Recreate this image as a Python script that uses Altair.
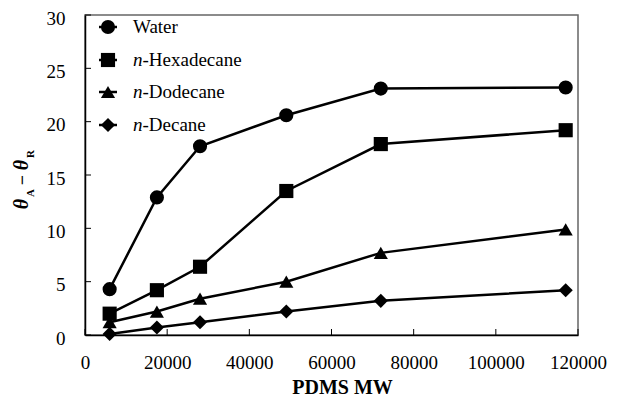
import altair as alt
import pandas as pd

# ---- data ----
mw = [6000, 17500, 28000, 49000, 72000, 117000]
water = [4.3, 12.9, 17.7, 20.6, 23.1, 23.2]
hexadecane = [2.0, 4.2, 6.4, 13.5, 17.9, 19.2]
dodecane = [1.2, 2.2, 3.4, 5.0, 7.7, 9.9]
decane = [0.1, 0.7, 1.2, 2.2, 3.2, 4.2]

series_names = ["Water", "n-Hexadecane", "n-Dodecane", "n-Decane"]
series_values = [water, hexadecane, dodecane, decane]
shapes = ["circle", "square", "triangle-up", "diamond"]

legend_prefix = ["", "n", "n", "n"]
legend_rest = ["Water", "-Hexadecane", "-Dodecane", "-Decane"]

x_ticks = [0, 20000, 40000, 60000, 80000, 100000, 120000]
y_ticks = [0, 5, 10, 15, 20, 25, 30]

FONT = "Liberation Serif"
W, H = 493, 320

rows = []
for name, vals in zip(series_names, series_values):
    for m, v in zip(mw, vals):
        rows.append({"series": name, "mw": m, "value": v})
df = pd.DataFrame(rows)

xscale = alt.Scale(domain=[0, 120000], nice=False)
yscale = alt.Scale(domain=[0, 30], nice=False)

base = alt.Chart(df)

lines = base.mark_line(color="black", strokeWidth=2.5).encode(
    x=alt.X("mw:Q", scale=xscale,
            axis=alt.Axis(values=x_ticks, format="d", title="PDMS MW",
                          grid=False, ticks=False, tickSize=0,
                          labelPadding=18, labelFont=FONT, labelFontSize=19,
                          labelFontWeight="normal", labelFontStyle="normal",
                          labelColor="black", titleFont=FONT, titleFontSize=20,
                          titleFontWeight="bold", titleColor="black",
                          titlePadding=5, titleX=257,
                          domainColor="black", domainWidth=1.5,
                          labelFlush=False)),
    y=alt.Y("value:Q", scale=yscale,
            axis=alt.Axis(values=y_ticks, title=None, grid=False, ticks=False,
                          tickSize=0, labelPadding=20, labelFont=FONT,
                          labelFontWeight="normal", labelFontStyle="normal",
                          labelFontSize=19, labelColor="black", labelOffset=3,
                          domainColor="black", domainWidth=1.5)),
    detail="series:N",
)

points = base.mark_point(filled=True, opacity=1, color="black", size=200).encode(
    x=alt.X("mw:Q", scale=xscale),
    y=alt.Y("value:Q", scale=yscale),
    shape=alt.Shape("series:N", scale=alt.Scale(domain=series_names, range=shapes),
                    legend=None),
)

# inward tick marks
xt = alt.Chart(pd.DataFrame({"t": x_ticks})).mark_rule(color="black", strokeWidth=1).encode(
    x=alt.X("t:Q", scale=xscale), y=alt.value(H), y2=alt.value(H - 6))
yt = alt.Chart(pd.DataFrame({"t": y_ticks})).mark_rule(color="black", strokeWidth=1).encode(
    y=alt.Y("t:Q", scale=yscale), x=alt.value(0), x2=alt.value(6))

layers = [xt, yt, lines, points]

# manual legend
legend_y = [12, 45, 77, 110]
for i in range(4):
    one = pd.DataFrame({"a": [legend_prefix[i]], "b": [legend_rest[i]]})
    c = alt.Chart(one)
    layers.append(c.mark_rule(color="black", strokeWidth=2.5).encode(
        x=alt.value(14), x2=alt.value(32), y=alt.value(legend_y[i])))
    layers.append(c.mark_point(filled=True, opacity=1, color="black", size=200,
                               shape=shapes[i]).encode(
        x=alt.value(23), y=alt.value(legend_y[i])))
    if legend_prefix[i]:
        layers.append(c.mark_text(font=FONT, fontSize=19, fontStyle="italic",
                                  fontWeight="normal",
                                  align="left", baseline="middle", color="black").encode(
            text="a:N", x=alt.value(48), y=alt.value(legend_y[i])))
        layers.append(c.mark_text(font=FONT, fontSize=19, fontStyle="normal",
                                  fontWeight="normal", align="left",
                                  baseline="middle", color="black").encode(
            text="b:N", x=alt.value(57.5), y=alt.value(legend_y[i])))
    else:
        layers.append(c.mark_text(font=FONT, fontSize=19, fontStyle="normal",
                                  fontWeight="normal", align="left",
                                  baseline="middle", color="black").encode(
            text="b:N", x=alt.value(48), y=alt.value(legend_y[i])))

# y-axis title: theta_A - theta_R, rotated
title_parts = ["θ", "A", "−", "θ", "R"]
title_x = [-63, -54, -62, -63, -54]
title_y = [189, 178, 165, 150, 139]
title_size = [20, 11, 18, 20, 11]
title_style = ["italic", "normal", "normal", "italic", "normal"]
for t, tx, ty, ts, st in zip(title_parts, title_x, title_y, title_size, title_style):
    layers.append(alt.Chart(pd.DataFrame({"t": [t]})).mark_text(
        font=FONT, fontSize=ts, fontWeight="bold", fontStyle=st, angle=270,
        align="center", baseline="middle", color="black").encode(
        text="t:N", x=alt.value(tx), y=alt.value(ty)))

chart = alt.layer(*layers).properties(
    width=W, height=H,
    autosize=alt.AutoSizeParams(type="none"),
    padding={"left": 77, "top": 7, "right": 33, "bottom": 65},
    view=alt.ViewBackground(stroke="#666666", strokeWidth=1.5),
).configure(font=FONT)

chart.save("out.html", embed_options={"renderer": "svg", "actions": False})
